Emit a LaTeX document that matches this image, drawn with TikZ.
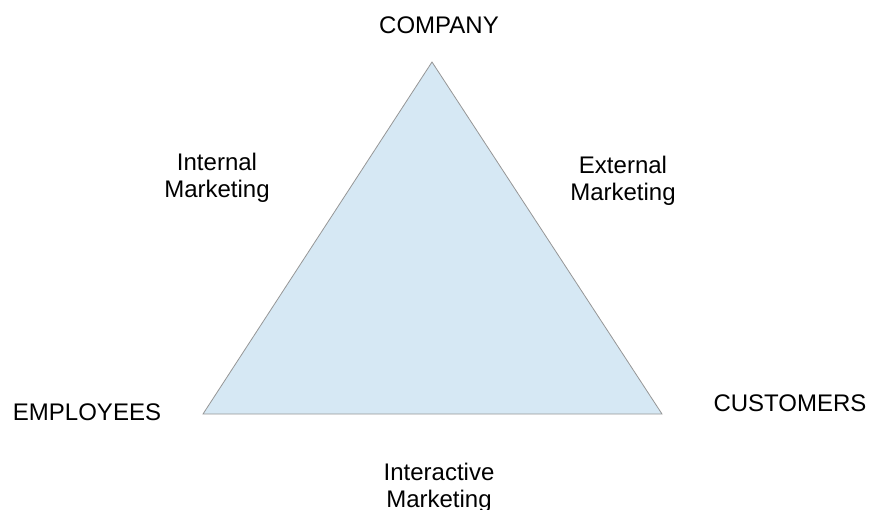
\documentclass[tikz,border=0pt]{standalone}
\usepackage{fontspec}
\setmainfont{Liberation Sans}
\definecolor{trifill}{RGB}{214,232,244}
\definecolor{triedge}{RGB}{150,150,150}
\tikzset{
  lbl/.style={inner sep=0pt, font=\fontsize{24}{27}\selectfont, align=center, text=black},
  tri/.style={fill=trifill, draw=triedge, line width=0.8pt, line join=miter}
}
\begin{document}
\begin{tikzpicture}[x=1pt,y=-1pt]
\useasboundingbox (0,0) rectangle (870,510);
\coordinate (top) at (432,62);
\coordinate (bl) at (203,414);
\coordinate (br) at (662,414);
\draw[tri] (top) -- (br) -- (bl) -- cycle;
\node[lbl] (company) at (439,25) {COMPANY};
\node[lbl] (employees) at (87,412) {EMPLOYEES};
\node[lbl] (customers) at (790,403) {CUSTOMERS};
\node[lbl] (internal) at (217,178) {Internal\\Marketing};
\node[lbl] (external) at (623,181) {External\\Marketing};
\node[lbl] (interactive) at (439,488) {Interactive\\Marketing};
\end{tikzpicture}
\end{document}
